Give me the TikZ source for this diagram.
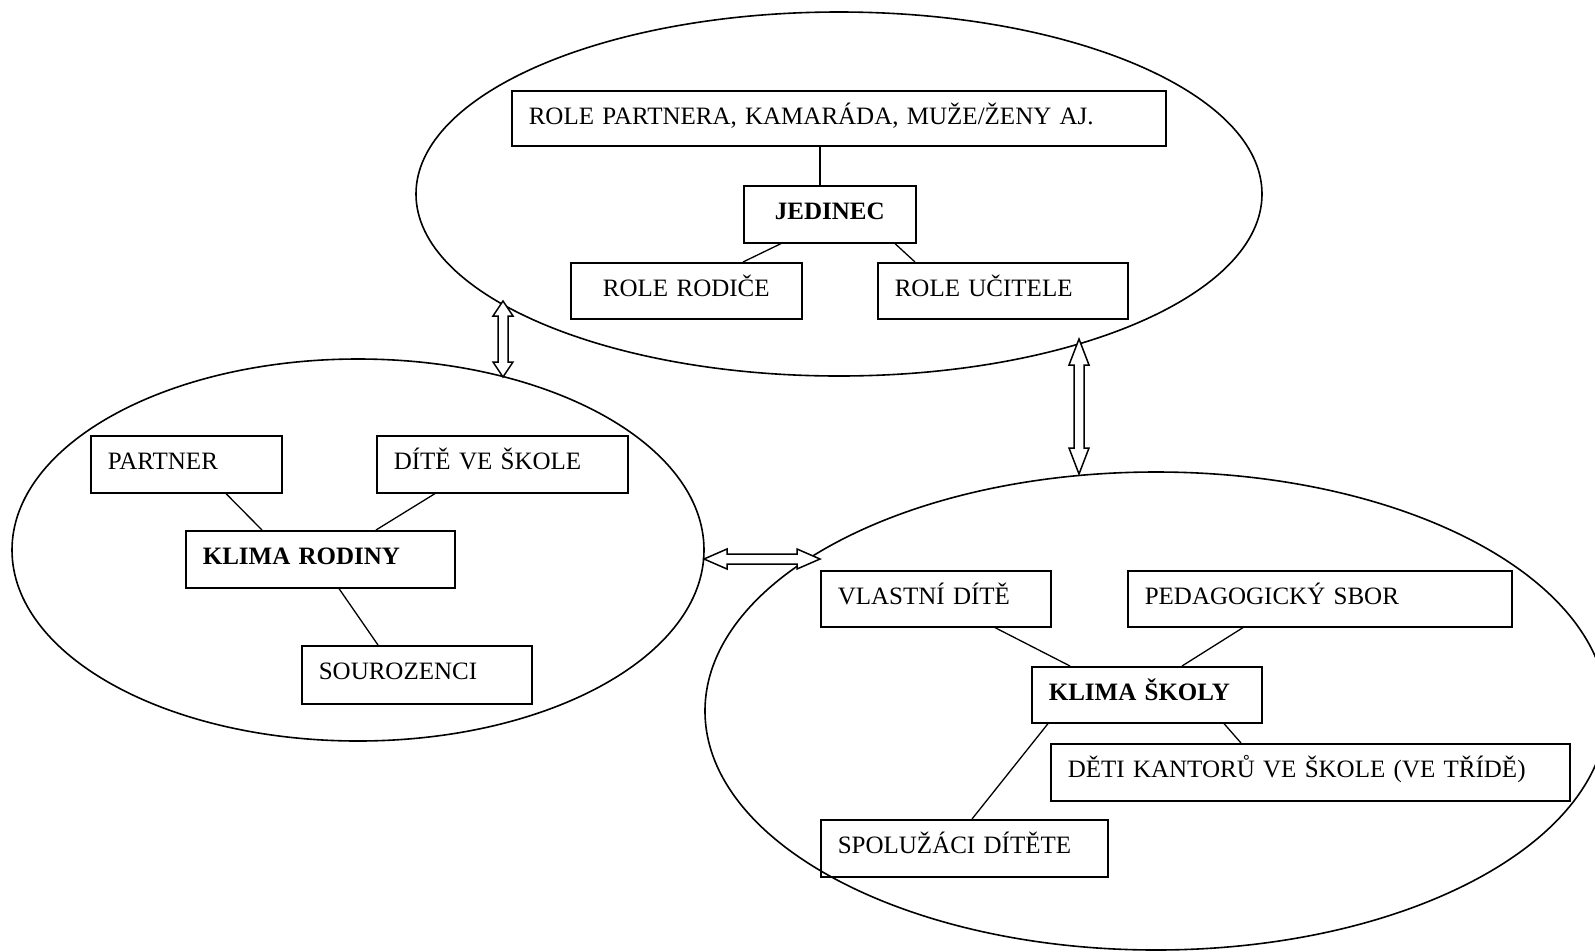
\documentclass[tikz,border=0pt]{standalone}
\usepackage{fontspec}
\setmainfont{Liberation Serif}
\usetikzlibrary{calc}
\tikzset{
  bx/.style={draw, line width=1.6pt, anchor=north west, inner xsep=17pt, inner ysep=0pt,
    text height=34pt, align=left, font=\fontsize{25}{30}\selectfont},
  bxc/.style={bx, align=center, inner xsep=4pt},
  ell/.style={draw, line width=1.6pt},
  conn/.style={draw, line width=1.3pt},
  barrow/.style={draw, line width=1.5pt, fill=white, line join=miter}
}
\begin{document}
\begin{tikzpicture}[x=1pt,y=-1pt]
\useasboundingbox (0,0) rectangle (1595,951);
\clip (0,0) rectangle (1595,951);
\fill[white] (0,0) rectangle (1595,951);
% ellipses
\draw[ell] (839,194) ellipse [x radius=423, y radius=182];
\draw[ell] (358,550) ellipse [x radius=346, y radius=191];
\draw[ell] (1156,711) ellipse [x radius=451, y radius=239];
% top group
\node[bx, text width=620pt, text depth=21pt] (rp) at (511,90) {ROLE PARTNERA, KAMARÁDA, MUŽE/ŽENY AJ.};
\node[bxc, text width=164pt, text depth=23pt] (jed) at (743,185) {\textbf{JEDINEC}};
\node[bxc, text width=223pt, text depth=22pt] (rr) at (570,262) {ROLE RODIČE};
\node[bx, text width=216pt, text depth=22pt] (ru) at (877,262) {ROLE UČITELE};
% left group
\node[bx, text width=157pt, text depth=23pt] (pa) at (90,435) {PARTNER};
\node[bx, text width=217pt, text depth=23pt] (dv) at (376,435) {DÍTĚ VE ŠKOLE};
\node[bx, text width=235pt, text depth=23pt] (kr) at (185,530) {\textbf{KLIMA RODINY}};
\node[bx, text width=196pt, text depth=24pt] (so) at (301,645) {SOUROZENCI};
% right group
\node[bx, text width=196pt, text depth=22pt] (vd) at (820,570) {VLASTNÍ DÍTĚ};
\node[bx, text width=350pt, text depth=22pt] (ps) at (1127,570) {PEDAGOGICKÝ SBOR};
\node[bx, text width=196pt, text depth=22pt] (ks) at (1031,666) {\textbf{KLIMA ŠKOLY}};
\node[bx, text width=485pt, text depth=23pt] (dk) at (1050,743) {DĚTI KANTORŮ VE ŠKOLE (VE TŘÍDĚ)};
\node[bx, text width=253pt, text depth=23pt] (sp) at (820,819) {SPOLUŽÁCI DÍTĚTE};
% connectors
\draw[conn] ($(rp.south west)+(309,0)$) -- ($(jed.north west)+(77,0)$);
\draw[conn] ($(jed.south west)+(38,0)$) -- ($(rr.north west)+(173,0)$);
\draw[conn] ($(jed.south west)+(152,0)$) -- ($(ru.north west)+(38,0)$);
\draw[conn] ($(pa.south west)+(136,0)$) -- ($(kr.north west)+(77,0)$);
\draw[conn] ($(dv.south west)+(59,0)$) -- ($(kr.north west)+(191,0)$);
\draw[conn] ($(kr.south west)+(154,0)$) -- ($(so.north west)+(77,0)$);
\draw[conn] ($(vd.south west)+(175,0)$) -- ($(ks.north west)+(39,0)$);
\draw[conn] ($(ps.south west)+(116,0)$) -- ($(ks.north west)+(151,0)$);
\draw[conn] ($(ks.south west)+(193,0)$) -- ($(dk.north west)+(191,0)$);
\draw[conn] ($(ks.south west)+(17,0)$) -- ($(sp.north west)+(152,0)$);
% double block arrows
\coordinate (a1t) at (503,301);
\coordinate (a1b) at (503,377);
\coordinate (a2t) at (1079,339);
\coordinate (a2b) at (1079,474);
\coordinate (a3l) at (704,559);
\coordinate (a3r) at (820,559);
\draw[barrow] (a1t) -- ++(10,15) -- ++(-5,0) -- ($(a1b)+(5,-15)$) -- ++(5,0) -- (a1b)
  -- ++(-10,-15) -- ++(5,0) -- ($(a1t)+(-5,15)$) -- ++(-5,0) -- cycle;
\draw[barrow] (a2t) -- ++(10,26) -- ++(-5,0) -- ($(a2b)+(5,-26)$) -- ++(5,0) -- (a2b)
  -- ++(-10,-26) -- ++(5,0) -- ($(a2t)+(-5,26)$) -- ++(-5,0) -- cycle;
\draw[barrow] (a3l) -- ++(23,-10) -- ++(0,5) -- ($(a3r)+(-23,-5)$) -- ++(0,-5) -- (a3r)
  -- ++(-23,10) -- ++(0,-5) -- ($(a3l)+(23,5)$) -- ++(0,5) -- cycle;
\end{tikzpicture}
\end{document}
